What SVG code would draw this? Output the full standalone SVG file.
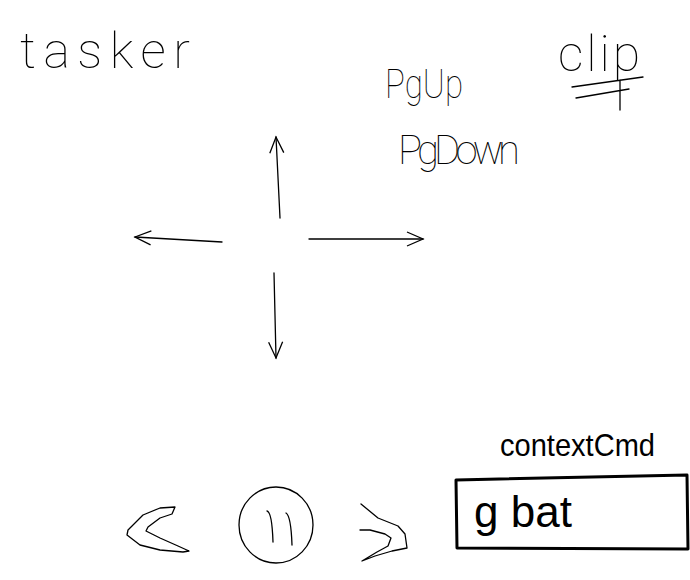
<svg xmlns="http://www.w3.org/2000/svg" width="690" height="580" viewBox="0 0 690 580">
<style>
.t{font-family:"Liberation Sans","DejaVu Sans",sans-serif;fill:#000}
.thin{font-family:Roboto,Lato,Inter,"Liberation Sans",sans-serif;font-weight:100}
.ln{fill:none;stroke:#000;stroke-width:1.3;stroke-linecap:round;stroke-linejoin:round}
.thick{fill:none;stroke:#000;stroke-width:3;stroke-linejoin:round}
</style>
<defs>
<marker id="ah" viewBox="0 0 20 20" refX="18" refY="10" markerWidth="20" markerHeight="20" markerUnits="userSpaceOnUse" orient="auto">
<path d="M2,3 L18,10 L2,17" fill="none" stroke="#000" stroke-width="1.3"/>
</marker>
</defs>
<rect width="690" height="580" fill="#fff"/>
<g id="tasker"><text class="t thin" x="20" y="68" font-size="50" textLength="170" lengthAdjust="spacing">tasker</text></g>
<g id="pgup"><text class="t thin" x="385" y="98" font-size="40" textLength="78" lengthAdjust="spacingAndGlyphs">PgUp</text></g>
<g id="pgdown"><text class="t thin" x="398" y="164" font-size="40" textLength="122" lengthAdjust="spacing">PgDown</text></g>
<g id="clip">
<text class="t thin" x="558" y="71" font-size="50" textLength="82" lengthAdjust="spacing">clip</text>
<path class="ln" d="M620,80 L620,110 M572,87 L643,77 M576,98 L629,89"/>
</g>
<g id="connectors">
<path class="ln" d="M280,218 L276,137" marker-end="url(#ah)"/>
<path class="ln" d="M222,242 L135,237" marker-end="url(#ah)"/>
<path class="ln" d="M309,239 L423,239" marker-end="url(#ah)"/>
<path class="ln" d="M274,273 L276,358" marker-end="url(#ah)"/>
</g>
<g id="prev"><path class="ln" d="M175,507 L160,508 L143,515 L128,530 L127,535 L140,545 L160,550 L183,552 L189,551 L178,546 L160,538 L146,531 L148,527 L160,518 L172,514 Z"/></g>
<g id="pause">
<ellipse class="ln" cx="276" cy="525" rx="37" ry="38"/>
<path class="ln" d="M267,511 Q272,512 273,542 M286,513 Q291,516 292,545"/>
</g>
<g id="next"><path class="ln" d="M361,504 L378,518 L398,526 L405,534 L407,548 L392,551 L375,556 L362,561 L377,552 L388,546 L391,538 L385,534 L370,530 L360,530"/></g>
<g id="contextCmd"><text class="t" x="500" y="456" font-size="32" textLength="155" lengthAdjust="spacingAndGlyphs">contextCmd</text></g>
<g id="cmdbox">
<path class="thick" d="M456,480 L687,475 L688,549 L457,548 Z"/>
<text class="t" x="474" y="527" font-size="44">g bat</text>
</g>
</svg>
